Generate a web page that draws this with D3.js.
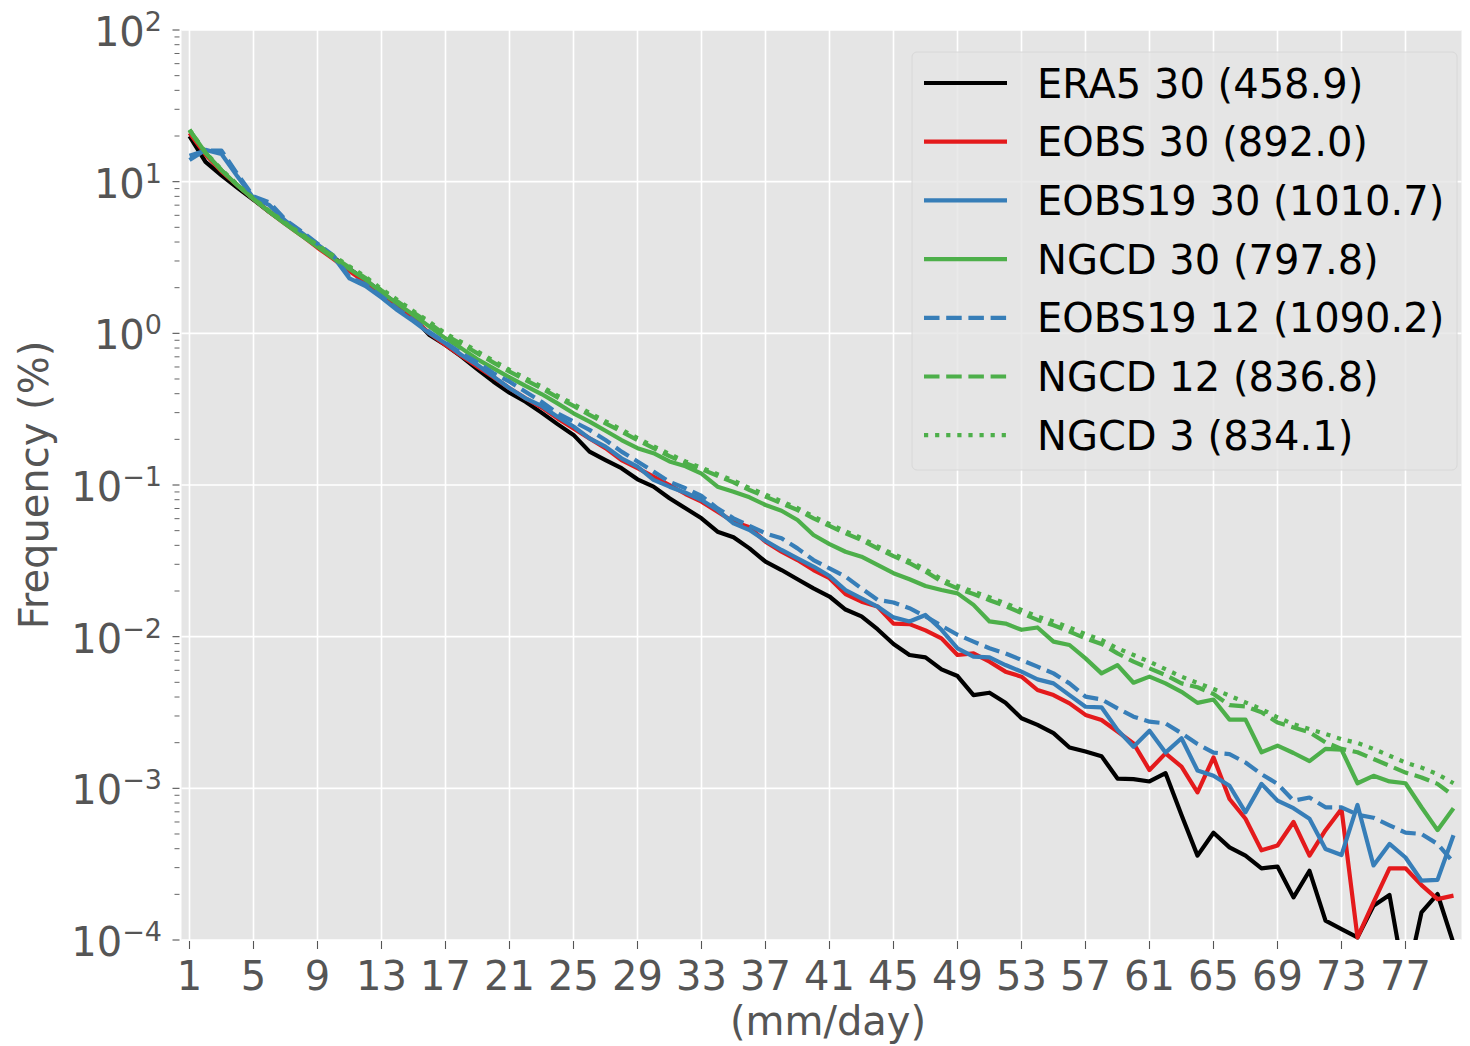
<!DOCTYPE html>
<html><head><meta charset="utf-8">
<script src="https://cdn.jsdelivr.net/npm/d3@7"></script>
<style>
html,body{margin:0;padding:0;background:#fff;}
svg{display:block;font-family:"DejaVu Sans",sans-serif;}
</style></head>
<body><svg id="chart" width="1470" height="1046"></svg>
<script>
// ---------------- data ----------------
const days = d3.range(1, 81);
const xTickValues = d3.range(1, 80, 4);
const yTickExponents = [-4, -3, -2, -1, 0, 1, 2];
const seriesNames = ["ERA5 30 (458.9)", "EOBS 30 (892.0)", "EOBS19 30 (1010.7)", "NGCD 30 (797.8)",
                     "EOBS19 12 (1090.2)", "NGCD 12 (836.8)", "NGCD 3 (834.1)"];

const era5_30 = [19.95,13.5,11.0,9.12,7.59,6.31,5.31,4.47,3.76,3.16,2.66,2.24,1.86,1.55,1.26,0.975,
 0.838,0.702,0.579,0.48,0.406,0.354,0.3,0.252,0.214,0.166,0.146,0.129,0.109,0.0975,0.0817,
 0.0702,0.0603,0.0492,0.0452,0.0382,0.0312,0.0275,0.0239,0.0208,0.0184,0.0151,0.0136,0.0112,0.00895,0.00757,0.00731,
 0.00609,0.0055,0.00412,0.00427,0.00367,0.0029,0.00262,0.00231,0.00186,0.00175,0.00163,0.00116,0.00115,0.00111,0.00126,0.000667,
 0.00036,0.00051,0.000408,0.00036,0.000297,0.000305,0.000191,0.000286,0.000134,0.000118,0.000104,0.000168,0.000198,0.00005,0.000152,0.000201,0.000095];

const eobs_30 = [20.9,15.1,11.7,9.44,7.67,6.31,5.25,4.42,3.67,3.09,2.57,2.16,1.8,1.5,1.24,1.0,
 0.838,0.709,0.603,0.513,0.434,0.373,0.325,0.275,0.236,0.203,0.175,0.146,0.129,0.1135,0.1,
 0.0872,0.0776,0.0667,0.0573,0.0526,0.0423,0.0363,0.032,0.0275,0.0243,0.0191,0.017,0.0158,0.0122,0.0121,0.011,
 0.00975,0.00757,0.00776,0.00684,0.00588,0.00545,0.00445,0.00412,0.00363,0.00305,0.00282,0.00237,0.00198,0.00132,0.0017,0.00139,
 0.00094,0.0016,0.00085,0.00063,0.00039,0.00042,0.0006,0.00036,0.00053,0.00073,0.000104,0.000177,0.000297,0.000297,0.00023,0.000186,0.000196];

const eobs19_30 = [13.9,16.2,15.2,10.8,7.8,7.0,5.5,4.6,3.85,3.2,2.3,2.05,1.72,1.42,1.2,1.0,
 0.859,0.72,0.618,0.518,0.434,0.373,0.332,0.282,0.243,0.203,0.179,0.15,0.132,0.108,0.0975,
 0.0889,0.0796,0.0684,0.0558,0.0505,0.0429,0.0373,0.0328,0.029,0.0251,0.0203,0.0179,0.0158,0.0134,0.0126,0.0139,
 0.0111,0.00838,0.00738,0.00731,0.0065,0.00588,0.00523,0.00492,0.00412,0.00345,0.00342,0.00243,0.00188,0.0024,0.00172,0.00214,
 0.00131,0.00121,0.00104,0.000695,0.00107,0.00083,0.00074,0.00063,0.000398,0.000363,0.000777,0.00031,0.00043,0.00035,0.000246,0.000249,0.00049];

const ngcd_30 = [21.9,15.5,11.9,9.44,7.67,6.31,5.25,4.42,3.72,3.13,2.66,2.26,1.86,1.57,1.32,1.107,
 0.927,0.796,0.674,0.588,0.513,0.45,0.398,0.345,0.297,0.262,0.228,0.198,0.175,0.162,0.143,
 0.133,0.119,0.0975,0.0903,0.0829,0.0738,0.0677,0.0588,0.0468,0.0408,0.0363,0.0337,0.0297,0.0262,0.0239,0.0216,
 0.0203,0.0193,0.0162,0.0126,0.0122,0.0111,0.0115,0.00927,0.00881,0.00719,0.00573,0.0065,0.00497,0.00545,0.00492,0.00433,
 0.00366,0.00385,0.00284,0.00284,0.00173,0.00191,0.00171,0.00151,0.00182,0.0018,0.00108,0.00121,0.00111,0.00108,0.00075,0.00053,0.00074];

const eobs19_12 = [14.8,16.0,16.0,11.2,8.0,7.3,5.6,4.7,3.9,3.25,2.35,2.1,1.75,1.45,1.22,1.02,
 0.868,0.738,0.641,0.545,0.48,0.412,0.354,0.297,0.262,0.231,0.198,0.166,0.143,0.1225,0.105,
 0.0951,0.0846,0.0702,0.0603,0.0537,0.048,0.0445,0.0382,0.032,0.0282,0.0249,0.0208,0.0175,0.0168,0.0154,0.0136,
 0.0118,0.0103,0.00927,0.00838,0.00776,0.00702,0.00634,0.00573,0.00492,0.00402,0.00386,0.00337,0.00297,0.00275,0.00268,0.00231,
 0.00196,0.00172,0.00168,0.00148,0.00124,0.00107,0.00083,0.00087,0.00075,0.00075,0.00067,0.00064,0.00057,0.00051,0.0005,0.00043,0.000325];

const ngcd_12 = [21.9,15.5,11.9,9.5,7.7,6.35,5.3,4.48,3.78,3.2,2.72,2.32,1.92,1.62,1.37,1.164,
 0.975,0.851,0.738,0.641,0.559,0.492,0.434,0.378,0.332,0.29,0.255,0.225,0.198,0.175,0.155,
 0.139,0.127,0.115,0.104,0.0927,0.0838,0.0757,0.0684,0.0603,0.0537,0.048,0.0434,0.0382,0.034,0.0305,0.0269,
 0.0231,0.0208,0.0191,0.0174,0.0159,0.0143,0.0129,0.0119,0.0108,0.00975,0.00895,0.00776,0.00684,0.00618,0.00558,0.00492,
 0.00464,0.00419,0.00354,0.00347,0.00317,0.00272,0.00252,0.00234,0.00201,0.00182,0.00173,0.00156,0.00141,0.00127,0.00118,0.00107,0.000895];

const ngcd_3 = [22.0,15.6,12.0,9.55,7.75,6.4,5.35,4.52,3.82,3.25,2.76,2.36,1.96,1.66,1.4,1.19,
 1.0,0.875,0.76,0.66,0.575,0.506,0.446,0.389,0.342,0.299,0.263,0.232,0.204,0.18,0.16,
 0.143,0.13,0.118,0.107,0.0955,0.0865,0.078,0.0705,0.062,0.0553,0.0495,0.0447,0.0394,0.035,0.0315,0.0278,
 0.0239,0.0216,0.0198,0.0182,0.0166,0.015,0.0136,0.0126,0.0115,0.0104,0.00951,0.00838,0.00757,0.00684,0.0061,0.00545,
 0.00495,0.00452,0.00408,0.00369,0.00333,0.00294,0.00265,0.00246,0.00228,0.00211,0.00199,0.00182,0.00164,0.00148,0.00137,0.00124,0.00108];

const seriesValues = [era5_30, eobs_30, eobs19_30, ngcd_30, eobs19_12, ngcd_12, ngcd_3];
const seriesColors = ["#000000", "#e41a1c", "#377eb8", "#4daf4a", "#377eb8", "#4daf4a", "#4daf4a"];
const seriesDash = [null, null, null, null, "15.5,6.7", "15.5,6.7", "4.2,6.9"];

// ---------------- layout ----------------
const W = 1470, H = 1046;
const plot = {left: 181.5, right: 1461.5, top: 30, bottom: 940};
const LW = 4.2;
const FS = 40;

const svg = d3.select("#chart");
svg.append("rect").attr("width", W).attr("height", H).attr("fill", "#fff");

const x = d3.scaleLinear().domain([0.5, 80.5]).range([plot.left, plot.right]);
const y = d3.scaleLog().domain([1e-4, 1e2]).range([plot.bottom, plot.top]);

svg.append("rect").attr("x", plot.left).attr("y", plot.top)
  .attr("width", plot.right - plot.left).attr("height", plot.bottom - plot.top)
  .attr("fill", "#E5E5E5");

// grid
const grid = svg.append("g");
yTickExponents.forEach(e => {
  grid.append("line").attr("x1", plot.left).attr("x2", plot.right)
    .attr("y1", y(Math.pow(10, e))).attr("y2", y(Math.pow(10, e)))
    .attr("stroke", "#fff").attr("stroke-width", 1.6);
});
xTickValues.forEach(v => {
  grid.append("line").attr("x1", x(v)).attr("x2", x(v))
    .attr("y1", plot.top).attr("y2", plot.bottom)
    .attr("stroke", "#fff").attr("stroke-width", 1.6);
});

// ticks
const ticks = svg.append("g").attr("stroke", "#555").attr("stroke-width", 1.1);
xTickValues.forEach(v => {
  ticks.append("line").attr("x1", x(v)).attr("x2", x(v)).attr("y1", plot.bottom + 1).attr("y2", plot.bottom + 9);
});
yTickExponents.forEach(e => {
  const yy = y(Math.pow(10, e));
  ticks.append("line").attr("x1", plot.left - 9).attr("x2", plot.left - 2).attr("y1", yy).attr("y2", yy);
  if (e < 2) {
    for (let m = 2; m <= 9; m++) {
      const ym = y(m * Math.pow(10, e));
      ticks.append("line").attr("x1", plot.left - 7).attr("x2", plot.left - 2).attr("y1", ym).attr("y2", ym)
        .attr("stroke-width", 0.9);
    }
  }
});

// x tick labels
const xl = svg.append("g").attr("fill", "#555").attr("font-size", FS).attr("text-anchor", "middle");
xTickValues.forEach(v => {
  xl.append("text").attr("x", x(v)).attr("y", 990).text(String(v));
});

// y tick labels
const yl = svg.append("g").attr("fill", "#555").attr("font-size", FS).attr("text-anchor", "end");
yTickExponents.forEach(e => {
  const t = yl.append("text").attr("x", 162).attr("y", y(Math.pow(10, e)) + 16);
  t.append("tspan").text("10");
  t.append("tspan").attr("dy", -15).attr("font-size", 27).text(e < 0 ? "\u2212" + Math.abs(e) : String(e));
});

// axis labels
svg.append("text").attr("x", 828).attr("y", 1035)
  .attr("text-anchor", "middle").attr("font-size", FS).attr("fill", "#555").text("(mm/day)");
svg.append("text")
  .attr("transform", `translate(48,${(plot.top + plot.bottom) / 2}) rotate(-90)`)
  .attr("text-anchor", "middle").attr("font-size", FS).attr("fill", "#555").text("Frequency (%)");

// lines
svg.append("clipPath").attr("id", "clip").append("rect")
  .attr("x", plot.left).attr("y", plot.top)
  .attr("width", plot.right - plot.left).attr("height", plot.bottom - plot.top);

const line = d3.line().x((d, i) => x(days[i])).y(d => y(d));
const lines = svg.append("g").attr("clip-path", "url(#clip)");
seriesValues.forEach((vals, i) => {
  lines.append("path").attr("d", line(vals))
    .attr("fill", "none").attr("stroke", seriesColors[i]).attr("stroke-width", LW)
    .attr("stroke-linejoin", "round")
    .attr("stroke-dasharray", seriesDash[i]);
});

// legend
const leg = svg.append("g");
leg.append("rect").attr("x", 912).attr("y", 52).attr("width", 545).attr("height", 418)
  .attr("rx", 5).attr("fill", "#E5E5E5").attr("fill-opacity", 0.8)
  .attr("stroke", "#D8D8D8").attr("stroke-width", 1);
seriesNames.forEach((name, i) => {
  const ry = 83 + i * 58.7;
  leg.append("line").attr("x1", 924).attr("x2", 1007).attr("y1", ry).attr("y2", ry)
    .attr("stroke", seriesColors[i]).attr("stroke-width", LW)
    .attr("stroke-dasharray", seriesDash[i]);
  leg.append("text").attr("x", 1037).attr("y", ry + 14.6)
    .attr("font-size", FS).attr("fill", "#000").text(name);
});
</script></body></html>
